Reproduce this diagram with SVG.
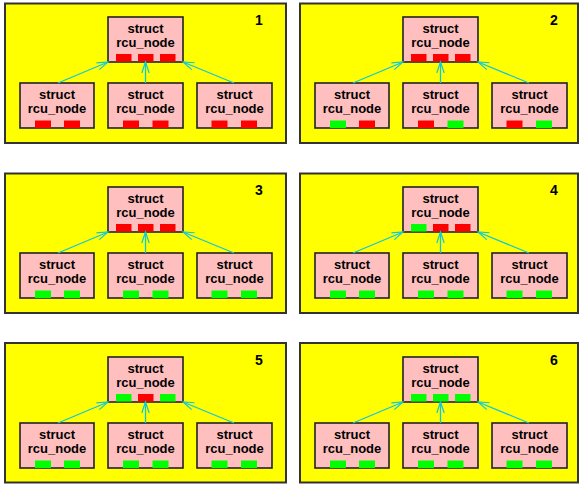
<svg xmlns="http://www.w3.org/2000/svg" width="581" height="485" viewBox="0 0 581 485">
<style>
.panel{fill:#ffff00;stroke:#333333;stroke-width:2}
.node{fill:#ffbfbf;stroke:#222222;stroke-width:1.6}
.t{font-family:"Liberation Sans",Arial,sans-serif;font-weight:bold;font-size:13px;text-anchor:middle;fill:#000}
.num{font-family:"Liberation Sans",Arial,sans-serif;font-weight:bold;font-size:14px;text-anchor:middle;fill:#000}
.r{fill:#ff0000}
.g{fill:#00ff00}
.c{stroke:#10c8d8;stroke-width:1.3;fill:none}
</style>
<defs>
<marker id="ah" markerUnits="userSpaceOnUse" markerWidth="14" markerHeight="10" refX="11" refY="4" orient="auto" overflow="visible">
<path d="M0,0.3 L11,4 L0,7.7" fill="none" stroke="#10c8d8" stroke-width="1.2"/>
</marker>
</defs>

<!-- Panel 1 -->
<g id="panel1" transform="translate(0,0)">
<rect class="panel" x="5" y="3.5" width="281" height="139.5"/>
<text class="num" x="259" y="25">1</text>
<g id="p1-top"><rect class="node" x="108" y="17" width="75" height="45"/><text class="t" x="145.5" y="33">struct</text><text class="t" x="145.5" y="47">rcu_node</text><rect class="r" x="116" y="54" width="15.5" height="7.5"/><rect class="r" x="138" y="54" width="15.5" height="7.5"/><rect class="r" x="160" y="54" width="15.5" height="7.5"/></g>
<g id="p1-left"><rect class="node" x="20" y="83" width="74" height="45"/><text class="t" x="57" y="99">struct</text><text class="t" x="57" y="113">rcu_node</text><rect class="r" x="35" y="120.5" width="16" height="7.5"/><rect class="r" x="64" y="120.5" width="16" height="7.5"/></g>
<g id="p1-mid"><rect class="node" x="108" y="83" width="75" height="45"/><text class="t" x="145.5" y="99">struct</text><text class="t" x="145.5" y="113">rcu_node</text><rect class="r" x="123" y="120.5" width="16" height="7.5"/><rect class="r" x="152.5" y="120.5" width="16" height="7.5"/></g>
<g id="p1-right"><rect class="node" x="197" y="83" width="75" height="45"/><text class="t" x="234.5" y="99">struct</text><text class="t" x="234.5" y="113">rcu_node</text><rect class="r" x="211.5" y="120.5" width="16" height="7.5"/><rect class="r" x="241" y="120.5" width="16" height="7.5"/></g>
<g id="p1-connectors"><line class="c" x1="58" y1="83" x2="108" y2="62" marker-end="url(#ah)"/><line class="c" x1="145.5" y1="83" x2="145.5" y2="62" marker-end="url(#ah)"/><line class="c" x1="234" y1="83" x2="183" y2="62" marker-end="url(#ah)"/></g>
</g>

<!-- Panel 2 -->
<g id="panel2" transform="translate(295,0)">
<rect class="panel" x="5" y="3.5" width="278" height="139.5"/>
<text class="num" x="259" y="25">2</text>
<g id="p2-top"><rect class="node" x="108" y="17" width="75" height="45"/><text class="t" x="145.5" y="33">struct</text><text class="t" x="145.5" y="47">rcu_node</text><rect class="r" x="116" y="54" width="15.5" height="7.5"/><rect class="r" x="138" y="54" width="15.5" height="7.5"/><rect class="r" x="160" y="54" width="15.5" height="7.5"/></g>
<g id="p2-left"><rect class="node" x="20" y="83" width="74" height="45"/><text class="t" x="57" y="99">struct</text><text class="t" x="57" y="113">rcu_node</text><rect class="g" x="35" y="120.5" width="16" height="7.5"/><rect class="r" x="64" y="120.5" width="16" height="7.5"/></g>
<g id="p2-mid"><rect class="node" x="108" y="83" width="75" height="45"/><text class="t" x="145.5" y="99">struct</text><text class="t" x="145.5" y="113">rcu_node</text><rect class="r" x="123" y="120.5" width="16" height="7.5"/><rect class="g" x="152.5" y="120.5" width="16" height="7.5"/></g>
<g id="p2-right"><rect class="node" x="197" y="83" width="75" height="45"/><text class="t" x="234.5" y="99">struct</text><text class="t" x="234.5" y="113">rcu_node</text><rect class="r" x="211.5" y="120.5" width="16" height="7.5"/><rect class="g" x="241" y="120.5" width="16" height="7.5"/></g>
<g id="p2-connectors"><line class="c" x1="58" y1="83" x2="108" y2="62" marker-end="url(#ah)"/><line class="c" x1="145.5" y1="83" x2="145.5" y2="62" marker-end="url(#ah)"/><line class="c" x1="234" y1="83" x2="183" y2="62" marker-end="url(#ah)"/></g>
</g>

<!-- Panel 3 -->
<g id="panel3" transform="translate(0,170)">
<rect class="panel" x="5" y="3.5" width="281" height="139.5"/>
<text class="num" x="259" y="25">3</text>
<g id="p3-top"><rect class="node" x="108" y="17" width="75" height="45"/><text class="t" x="145.5" y="33">struct</text><text class="t" x="145.5" y="47">rcu_node</text><rect class="r" x="116" y="54" width="15.5" height="7.5"/><rect class="r" x="138" y="54" width="15.5" height="7.5"/><rect class="r" x="160" y="54" width="15.5" height="7.5"/></g>
<g id="p3-left"><rect class="node" x="20" y="83" width="74" height="45"/><text class="t" x="57" y="99">struct</text><text class="t" x="57" y="113">rcu_node</text><rect class="g" x="35" y="120.5" width="16" height="7.5"/><rect class="g" x="64" y="120.5" width="16" height="7.5"/></g>
<g id="p3-mid"><rect class="node" x="108" y="83" width="75" height="45"/><text class="t" x="145.5" y="99">struct</text><text class="t" x="145.5" y="113">rcu_node</text><rect class="g" x="123" y="120.5" width="16" height="7.5"/><rect class="g" x="152.5" y="120.5" width="16" height="7.5"/></g>
<g id="p3-right"><rect class="node" x="197" y="83" width="75" height="45"/><text class="t" x="234.5" y="99">struct</text><text class="t" x="234.5" y="113">rcu_node</text><rect class="g" x="211.5" y="120.5" width="16" height="7.5"/><rect class="g" x="241" y="120.5" width="16" height="7.5"/></g>
<g id="p3-connectors"><line class="c" x1="58" y1="83" x2="108" y2="62" marker-end="url(#ah)"/><line class="c" x1="145.5" y1="83" x2="145.5" y2="62" marker-end="url(#ah)"/><line class="c" x1="234" y1="83" x2="183" y2="62" marker-end="url(#ah)"/></g>
</g>

<!-- Panel 4 -->
<g id="panel4" transform="translate(295,170)">
<rect class="panel" x="5" y="3.5" width="278" height="139.5"/>
<text class="num" x="259" y="25">4</text>
<g id="p4-top"><rect class="node" x="108" y="17" width="75" height="45"/><text class="t" x="145.5" y="33">struct</text><text class="t" x="145.5" y="47">rcu_node</text><rect class="g" x="116" y="54" width="15.5" height="7.5"/><rect class="r" x="138" y="54" width="15.5" height="7.5"/><rect class="r" x="160" y="54" width="15.5" height="7.5"/></g>
<g id="p4-left"><rect class="node" x="20" y="83" width="74" height="45"/><text class="t" x="57" y="99">struct</text><text class="t" x="57" y="113">rcu_node</text><rect class="g" x="35" y="120.5" width="16" height="7.5"/><rect class="g" x="64" y="120.5" width="16" height="7.5"/></g>
<g id="p4-mid"><rect class="node" x="108" y="83" width="75" height="45"/><text class="t" x="145.5" y="99">struct</text><text class="t" x="145.5" y="113">rcu_node</text><rect class="g" x="123" y="120.5" width="16" height="7.5"/><rect class="g" x="152.5" y="120.5" width="16" height="7.5"/></g>
<g id="p4-right"><rect class="node" x="197" y="83" width="75" height="45"/><text class="t" x="234.5" y="99">struct</text><text class="t" x="234.5" y="113">rcu_node</text><rect class="g" x="211.5" y="120.5" width="16" height="7.5"/><rect class="g" x="241" y="120.5" width="16" height="7.5"/></g>
<g id="p4-connectors"><line class="c" x1="58" y1="83" x2="108" y2="62" marker-end="url(#ah)"/><line class="c" x1="145.5" y1="83" x2="145.5" y2="62" marker-end="url(#ah)"/><line class="c" x1="234" y1="83" x2="183" y2="62" marker-end="url(#ah)"/></g>
</g>

<!-- Panel 5 -->
<g id="panel5" transform="translate(0,340)">
<rect class="panel" x="5" y="3" width="281" height="139.5"/>
<text class="num" x="259" y="25">5</text>
<g id="p5-top"><rect class="node" x="108" y="17" width="75" height="45"/><text class="t" x="145.5" y="33">struct</text><text class="t" x="145.5" y="47">rcu_node</text><rect class="g" x="116" y="54" width="15.5" height="7.5"/><rect class="r" x="138" y="54" width="15.5" height="7.5"/><rect class="g" x="160" y="54" width="15.5" height="7.5"/></g>
<g id="p5-left"><rect class="node" x="20" y="83" width="74" height="45"/><text class="t" x="57" y="99">struct</text><text class="t" x="57" y="113">rcu_node</text><rect class="g" x="35" y="120.5" width="16" height="7.5"/><rect class="g" x="64" y="120.5" width="16" height="7.5"/></g>
<g id="p5-mid"><rect class="node" x="108" y="83" width="75" height="45"/><text class="t" x="145.5" y="99">struct</text><text class="t" x="145.5" y="113">rcu_node</text><rect class="g" x="123" y="120.5" width="16" height="7.5"/><rect class="g" x="152.5" y="120.5" width="16" height="7.5"/></g>
<g id="p5-right"><rect class="node" x="197" y="83" width="75" height="45"/><text class="t" x="234.5" y="99">struct</text><text class="t" x="234.5" y="113">rcu_node</text><rect class="g" x="211.5" y="120.5" width="16" height="7.5"/><rect class="g" x="241" y="120.5" width="16" height="7.5"/></g>
<g id="p5-connectors"><line class="c" x1="58" y1="83" x2="108" y2="62" marker-end="url(#ah)"/><line class="c" x1="145.5" y1="83" x2="145.5" y2="62" marker-end="url(#ah)"/><line class="c" x1="234" y1="83" x2="183" y2="62" marker-end="url(#ah)"/></g>
</g>

<!-- Panel 6 -->
<g id="panel6" transform="translate(295,340)">
<rect class="panel" x="5" y="3" width="278" height="139.5"/>
<text class="num" x="259" y="25">6</text>
<g id="p6-top"><rect class="node" x="108" y="17" width="75" height="45"/><text class="t" x="145.5" y="33">struct</text><text class="t" x="145.5" y="47">rcu_node</text><rect class="g" x="116" y="54" width="15.5" height="7.5"/><rect class="g" x="138" y="54" width="15.5" height="7.5"/><rect class="g" x="160" y="54" width="15.5" height="7.5"/></g>
<g id="p6-left"><rect class="node" x="20" y="83" width="74" height="45"/><text class="t" x="57" y="99">struct</text><text class="t" x="57" y="113">rcu_node</text><rect class="g" x="35" y="120.5" width="16" height="7.5"/><rect class="g" x="64" y="120.5" width="16" height="7.5"/></g>
<g id="p6-mid"><rect class="node" x="108" y="83" width="75" height="45"/><text class="t" x="145.5" y="99">struct</text><text class="t" x="145.5" y="113">rcu_node</text><rect class="g" x="123" y="120.5" width="16" height="7.5"/><rect class="g" x="152.5" y="120.5" width="16" height="7.5"/></g>
<g id="p6-right"><rect class="node" x="197" y="83" width="75" height="45"/><text class="t" x="234.5" y="99">struct</text><text class="t" x="234.5" y="113">rcu_node</text><rect class="g" x="211.5" y="120.5" width="16" height="7.5"/><rect class="g" x="241" y="120.5" width="16" height="7.5"/></g>
<g id="p6-connectors"><line class="c" x1="58" y1="83" x2="108" y2="62" marker-end="url(#ah)"/><line class="c" x1="145.5" y1="83" x2="145.5" y2="62" marker-end="url(#ah)"/><line class="c" x1="234" y1="83" x2="183" y2="62" marker-end="url(#ah)"/></g>
</g>
</svg>
